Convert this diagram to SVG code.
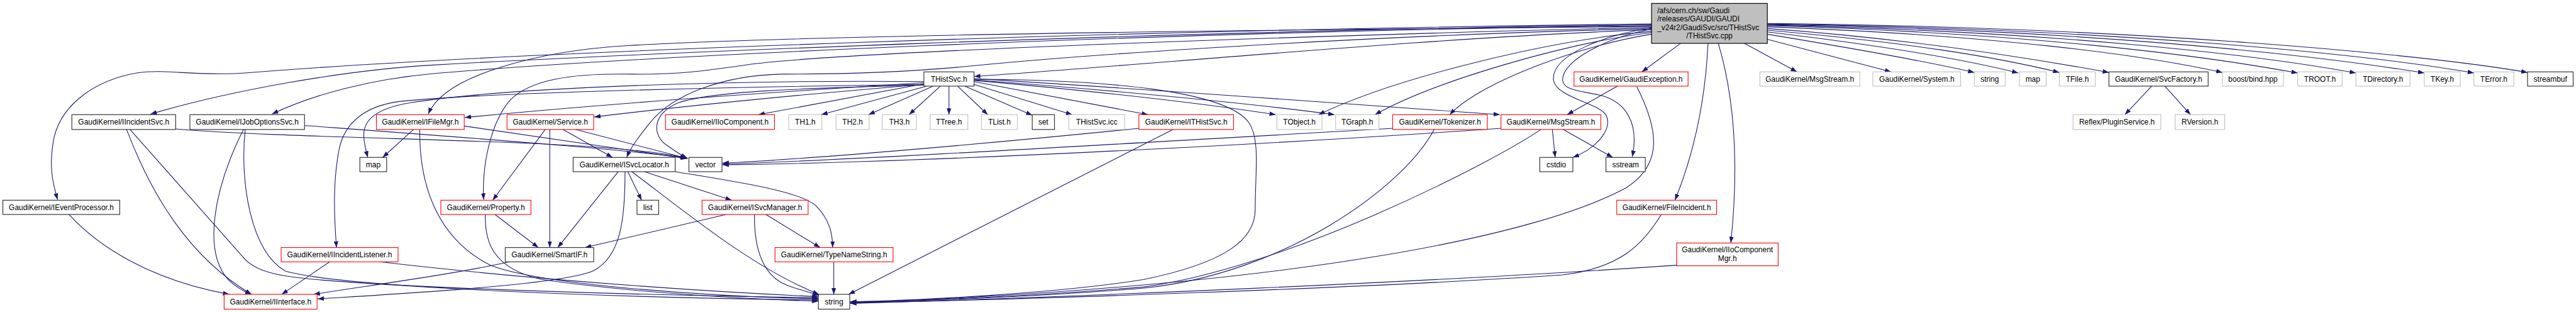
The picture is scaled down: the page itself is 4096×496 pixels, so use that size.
<svg xmlns="http://www.w3.org/2000/svg" width="4096" height="496" viewBox="0 0 4096 496">
<style>
.e{fill:none;stroke:#191970;stroke-width:1.2;marker-end:url(#ah)}
.nb{fill:#fff;stroke:#333;stroke-width:1.3}
.nr{fill:#fff;stroke:#f00;stroke-width:1.2}
.ng{fill:#fff;stroke:#bfbfbf;stroke-width:1.2}
.nm{fill:#bfbfbf;stroke:#000;stroke-width:1.3}
text{font-family:"Liberation Sans",Arial,Helvetica,sans-serif;font-size:13.2px;fill:#000;text-anchor:middle}
.l{text-anchor:start}
</style>
<defs>
<marker id="ah" markerUnits="userSpaceOnUse" markerWidth="11" markerHeight="8" refX="11" refY="4" orient="auto" viewBox="0 0 11 8"><path d="M0,0 L11,4 L0,8 z" fill="#191970"/></marker>
</defs>
<rect width="4096" height="496" fill="#fff"/>
<g transform="scale(0.9068)">
<g id="connectors">
<path class="e" d="M2896,42 C2000,52 900,90 430,128 C340,134 290,120 240,128 C170,140 110,180 95,240 C85,290 92,320 101,350"/>
<path class="e" d="M2896,43.5 C2000,55 1100,95 760,114 C600,123 400,160 264,200"/>
<path class="e" d="M2896,45 C2000,56 1100,100 760,129 C650,139 550,165 477,200"/>
<path class="e" d="M2896,46.5 C2200,52 1400,62 1100,80 C950,89 780,130 751,200"/>
<path class="e" d="M2896,48 C2300,62 1500,90 1322,112 C1250,122 1200,131 1110,130 C1000,128 930,140 895,175 C860,215 845,290 848,350"/>
<path class="e" d="M2896,50 C2400,62 1900,96 1710,115 C1600,126 1500,130 1370,130 C1270,132 1180,165 1140,215 C1120,240 1106,258 1099,276"/>
<path class="e" d="M2896,52 C2500,66 2000,115 1708,134"/>
<path class="e" d="M2896,55 C2720,70 2450,135 2312,201"/>
<path class="e" d="M2896,57 C2750,75 2520,140 2411,201"/>
<path class="e" d="M2896,60 C2780,78 2600,140 2542,201"/>
<path class="e" d="M2896,49 C2820,60 2720,95 2724,140 C2728,170 2800,180 2815,200 C2830,225 2800,260 2758,276"/>
<path class="e" d="M2896,51 C2820,65 2740,105 2740,140 C2740,160 2780,160 2810,168 C2850,180 2875,215 2862,275"/>
<path class="e" d="M2947,76 L2879,126"/>
<path class="e" d="M2995,76 C2990,180 2970,270 2937,351"/>
<path class="e" d="M3013,76 C3050,200 3045,330 3035,426"/>
<path class="e" d="M3059,76 L3151,126"/>
<path class="e" d="M3099,69 L3316,126"/>
<path class="e" d="M3099,60 C3250,85 3380,108 3462,127"/>
<path class="e" d="M3099,56 C3300,80 3450,105 3539,128"/>
<path class="e" d="M3099,53 C3350,75 3500,100 3611,127"/>
<path class="e" d="M3099,50 C3350,68 3550,100 3698,127"/>
<path class="e" d="M3099,47 C3500,62 3750,95 3897,127"/>
<path class="e" d="M3099,45 C3550,58 3850,95 4029,128"/>
<path class="e" d="M3099,44 C3600,55 3950,95 4131,128"/>
<path class="e" d="M3099,43 C3650,52 4050,95 4251,128"/>
<path class="e" d="M3099,42 C3700,50 4150,95 4338,128"/>
<path class="e" d="M3099,41 C3750,48 4250,95 4432,127"/>
<path class="e" d="M3773,151 L3726,201"/>
<path class="e" d="M3796,151 L3841,201"/>
<path class="e" d="M1620,147 L1330,201"/>
<path class="e" d="M1625,151 L1440,201"/>
<path class="e" d="M1636,151 L1523,201"/>
<path class="e" d="M1649,151 L1594,201"/>
<path class="e" d="M1664,151 L1664,201"/>
<path class="e" d="M1679,151 L1732,201"/>
<path class="e" d="M1692,151 L1810,202"/>
<path class="e" d="M1708,148 L1880,201"/>
<path class="e" d="M1708,143 L2013,201"/>
<path class="e" d="M1708,141 C1900,158 2100,180 2237,201"/>
<path class="e" d="M1708,140 C1950,158 2200,182 2340,201"/>
<path class="e" d="M1708,138 C2000,155 2400,185 2630,201"/>
<path class="e" d="M1708,139 C1950,140 2150,160 2190,215 C2210,245 2201,300 2201,367 C2201,420 2150,460 2006,490 C1850,515 1600,527 1491,529"/>
<path class="e" d="M1620,148 C1400,166 1200,186 1042,205"/>
<path class="e" d="M1620,145 C1300,165 1000,188 815,206"/>
<path class="e" d="M1620,143 C1300,140 900,152 720,180 C660,190 636,210 638,240 C639,255 642,265 645,276"/>
<path class="e" d="M1620,148 C1300,152 850,162 700,178 C640,186 605,215 595,260 C583,320 586,380 590,434"/>
<path class="e" d="M1620,149 C1400,155 1250,160 1190,180 C1140,200 1145,240 1170,255 C1180,262 1190,270 1205,277"/>
<path class="e" d="M222,227 C265,340 330,450 441,516"/>
<path class="e" d="M228,227 L430,455 C460,485 520,490 700,500 C1000,515 1300,520 1435,522"/>
<path class="e" d="M308,226 C450,238 700,242 900,250 C1050,256 1150,265 1204,277"/>
<path class="e" d="M427,227 C375,330 355,440 400,490 C412,502 425,510 441,516"/>
<path class="e" d="M430,227 C420,320 440,440 500,475 C600,505 1100,522 1435,526"/>
<path class="e" d="M534,220 C800,240 1100,262 1204,277"/>
<path class="e" d="M121,376 C170,430 260,490 402,516"/>
<path class="e" d="M725,227 L671,276"/>
<path class="e" d="M814,221 L1205,278"/>
<path class="e" d="M736,227 C735,330 770,420 860,465 C950,500 1250,520 1435,524"/>
<path class="e" d="M956,227 L864,351"/>
<path class="e" d="M964,227 L964,434"/>
<path class="e" d="M987,227 L1074,276"/>
<path class="e" d="M1009,227 L1206,278"/>
<path class="e" d="M868,376 L944,434"/>
<path class="e" d="M851,376 C850,420 860,470 950,490 C1100,512 1300,524 1435,528"/>
<path class="e" d="M1101,301 L1125,351"/>
<path class="e" d="M1130,301 L1283,351"/>
<path class="e" d="M1184,301 C1300,320 1400,335 1430,360 C1455,385 1460,410 1460,434"/>
<path class="e" d="M1084,301 L978,434"/>
<path class="e" d="M1108,301 C1200,370 1320,470 1436,516"/>
<path class="e" d="M1096,301 C1096,380 1090,450 1040,475 C980,500 700,515 557,524"/>
<path class="e" d="M1273,376 L1026,434"/>
<path class="e" d="M1343,376 L1438,434"/>
<path class="e" d="M1323,376 C1322,440 1340,485 1380,500 C1400,508 1420,512 1437,518"/>
<path class="e" d="M1462,459 L1462,516"/>
<path class="e" d="M893,459 C800,480 650,500 550,516"/>
<path class="e" d="M578,459 L494,516"/>
<path class="e" d="M657,458 C800,475 1100,505 1435,520"/>
<path class="e" d="M2057,227 L1488,516"/>
<path class="e" d="M1997,225 C1700,255 1400,280 1267,286"/>
<path class="e" d="M2443,225 C2000,250 1500,280 1267,288"/>
<path class="e" d="M2515,227 C2460,330 2250,480 2006,505 C1800,522 1600,528 1491,529"/>
<path class="e" d="M2632,225 C2200,255 1600,285 1267,289"/>
<path class="e" d="M2702,227 C2600,295 2250,470 2006,503 C1800,520 1600,528 1491,530"/>
<path class="e" d="M2722,227 L2727,276"/>
<path class="e" d="M2741,227 L2828,276"/>
<path class="e" d="M2836,151 L2748,201"/>
<path class="e" d="M2870,152 C2910,230 2915,290 2850,330 C2700,410 2300,500 1491,531"/>
<path class="e" d="M2913,376 C2880,430 2840,470 2740,482 C2400,505 1800,525 1491,531"/>
<path class="e" d="M2940,465 C2500,495 1900,520 1491,532"/>
</g>
<g id="n_main"><rect class="nm" x="2896" y="6" width="203" height="70"/><text class="l" x="2906" y="22.8">/afs/cern.ch/sw/Gaudi</text><text class="l" x="2906" y="37.6">/releases/GAUDI/GAUDI</text><text class="l" x="2906" y="52.4">_v24r2/GaudiSvc/src/THistSvc</text><text x="2997.5" y="67.2">/THistSvc.cpp</text></g>
<g id="n_THistSvc_h"><rect class="nb" x="1620" y="126" width="88" height="25"/><text x="1664" y="143.3">THistSvc.h</text></g>
<g id="n_GaudiException"><rect class="nr" x="2760" y="126" width="200" height="25"/><text x="2860" y="143.3">GaudiKernel/GaudiException.h</text></g>
<g id="n_MsgStream_g"><rect class="ng" x="3086" y="126" width="175" height="25"/><text x="3173.5" y="143.3">GaudiKernel/MsgStream.h</text></g>
<g id="n_System"><rect class="ng" x="3284" y="126" width="154" height="25"/><text x="3361" y="143.3">GaudiKernel/System.h</text></g>
<g id="n_string_g"><rect class="ng" x="3462" y="126" width="54" height="25"/><text x="3489" y="143.3">string</text></g>
<g id="n_map_g"><rect class="ng" x="3541" y="126" width="47" height="25"/><text x="3564.5" y="143.3">map</text></g>
<g id="n_TFile"><rect class="ng" x="3611" y="126" width="63" height="25"/><text x="3642.5" y="143.3">TFile.h</text></g>
<g id="n_SvcFactory"><rect class="nb" x="3698" y="126" width="174" height="25"/><text x="3785" y="143.3">GaudiKernel/SvcFactory.h</text></g>
<g id="n_boost"><rect class="ng" x="3897" y="126" width="107" height="25"/><text x="3950.5" y="143.3">boost/bind.hpp</text></g>
<g id="n_TROOT"><rect class="ng" x="4029" y="126" width="78" height="25"/><text x="4068" y="143.3">TROOT.h</text></g>
<g id="n_TDirectory"><rect class="ng" x="4131" y="126" width="95" height="25"/><text x="4178.5" y="143.3">TDirectory.h</text></g>
<g id="n_TKey"><rect class="ng" x="4251" y="126" width="63" height="25"/><text x="4282.5" y="143.3">TKey.h</text></g>
<g id="n_TError"><rect class="ng" x="4338" y="126" width="70" height="25"/><text x="4373" y="143.3">TError.h</text></g>
<g id="n_streambuf"><rect class="nb" x="4432" y="126" width="80" height="25"/><text x="4472" y="143.3">streambuf</text></g>
<g id="n_IIncidentSvc"><rect class="nb" x="126" y="201" width="182" height="26"/><text x="217" y="218.7">GaudiKernel/IIncidentSvc.h</text></g>
<g id="n_IJobOptionsSvc"><rect class="nb" x="333" y="201" width="201" height="26"/><text x="433.5" y="218.7">GaudiKernel/IJobOptionsSvc.h</text></g>
<g id="n_IFileMgr"><rect class="nr" x="660" y="201" width="154" height="26"/><text x="737" y="218.7">GaudiKernel/IFileMgr.h</text></g>
<g id="n_Service"><rect class="nr" x="889" y="201" width="152" height="26"/><text x="965" y="218.7">GaudiKernel/Service.h</text></g>
<g id="n_IIoComponent"><rect class="nr" x="1167" y="201" width="191" height="26"/><text x="1262.5" y="218.7">GaudiKernel/IIoComponent.h</text></g>
<g id="n_TH1"><rect class="ng" x="1383" y="201" width="58" height="26"/><text x="1412" y="218.7">TH1.h</text></g>
<g id="n_TH2"><rect class="ng" x="1466" y="201" width="58" height="26"/><text x="1495" y="218.7">TH2.h</text></g>
<g id="n_TH3"><rect class="ng" x="1547" y="201" width="60" height="26"/><text x="1577" y="218.7">TH3.h</text></g>
<g id="n_TTree"><rect class="ng" x="1631" y="201" width="66" height="26"/><text x="1664" y="218.7">TTree.h</text></g>
<g id="n_TList"><rect class="ng" x="1721" y="201" width="63" height="26"/><text x="1752.5" y="218.7">TList.h</text></g>
<g id="n_set"><rect class="nb" x="1810" y="201" width="39" height="26"/><text x="1829.5" y="218.7">set</text></g>
<g id="n_THistSvc_icc"><rect class="ng" x="1874" y="201" width="98" height="26"/><text x="1923" y="218.7">THistSvc.icc</text></g>
<g id="n_ITHistSvc"><rect class="nr" x="1997" y="201" width="166" height="26"/><text x="2080" y="218.7">GaudiKernel/ITHistSvc.h</text></g>
<g id="n_TObject"><rect class="ng" x="2239" y="201" width="79" height="26"/><text x="2278.5" y="218.7">TObject.h</text></g>
<g id="n_TGraph"><rect class="ng" x="2342" y="201" width="76" height="26"/><text x="2380" y="218.7">TGraph.h</text></g>
<g id="n_Tokenizer"><rect class="nr" x="2442" y="201" width="166" height="26"/><text x="2525" y="218.7">GaudiKernel/Tokenizer.h</text></g>
<g id="n_MsgStream"><rect class="nr" x="2632" y="201" width="175" height="26"/><text x="2719.5" y="218.7">GaudiKernel/MsgStream.h</text></g>
<g id="n_PluginService"><rect class="ng" x="3635" y="201" width="154" height="26"/><text x="3712" y="218.7">Reflex/PluginService.h</text></g>
<g id="n_RVersion"><rect class="ng" x="3814" y="201" width="87" height="26"/><text x="3857.5" y="218.7">RVersion.h</text></g>
<g id="n_map"><rect class="nb" x="631" y="276" width="47" height="25"/><text x="654.5" y="293.3">map</text></g>
<g id="n_ISvcLocator"><rect class="nb" x="1005" y="276" width="179" height="25"/><text x="1094.5" y="293.3">GaudiKernel/ISvcLocator.h</text></g>
<g id="n_vector"><rect class="nb" x="1208" y="276" width="58" height="25"/><text x="1237" y="293.3">vector</text></g>
<g id="n_cstdio"><rect class="nb" x="2700" y="276" width="58" height="25"/><text x="2729" y="293.3">cstdio</text></g>
<g id="n_sstream"><rect class="nb" x="2816" y="276" width="69" height="25"/><text x="2850.5" y="293.3">sstream</text></g>
<g id="n_IEventProcessor"><rect class="nb" x="5" y="351" width="205" height="25"/><text x="107.5" y="368.3">GaudiKernel/IEventProcessor.h</text></g>
<g id="n_Property"><rect class="nr" x="773" y="351" width="158" height="25"/><text x="852" y="368.3">GaudiKernel/Property.h</text></g>
<g id="n_list"><rect class="nb" x="1117" y="351" width="38" height="25"/><text x="1136" y="368.3">list</text></g>
<g id="n_ISvcManager"><rect class="nr" x="1231" y="351" width="186" height="25"/><text x="1324" y="368.3">GaudiKernel/ISvcManager.h</text></g>
<g id="n_FileIncident"><rect class="nr" x="2835" y="351" width="175" height="25"/><text x="2922.5" y="368.3">GaudiKernel/FileIncident.h</text></g>
<g id="n_IIncidentListener"><rect class="nr" x="493" y="434" width="205" height="25"/><text x="595.5" y="451.3">GaudiKernel/IIncidentListener.h</text></g>
<g id="n_SmartIF"><rect class="nb" x="886" y="434" width="155" height="25"/><text x="963.5" y="451.3">GaudiKernel/SmartIF.h</text></g>
<g id="n_TypeNameString"><rect class="nr" x="1359" y="434" width="207" height="25"/><text x="1462.5" y="451.3">GaudiKernel/TypeNameString.h</text></g>
<g id="n_IIoComponentMgr"><rect class="nr" x="2940" y="426" width="178" height="40"/><text x="3029" y="442.5">GaudiKernel/IIoComponent</text><text x="3029" y="457.5">Mgr.h</text></g>
<g id="n_IInterface"><rect class="nr" x="393" y="516" width="163" height="26"/><text x="474.5" y="533.7">GaudiKernel/IInterface.h</text></g>
<g id="n_string"><rect class="nb" x="1435" y="516" width="55" height="26"/><text x="1462.5" y="533.7">string</text></g>
</g>
</svg>
